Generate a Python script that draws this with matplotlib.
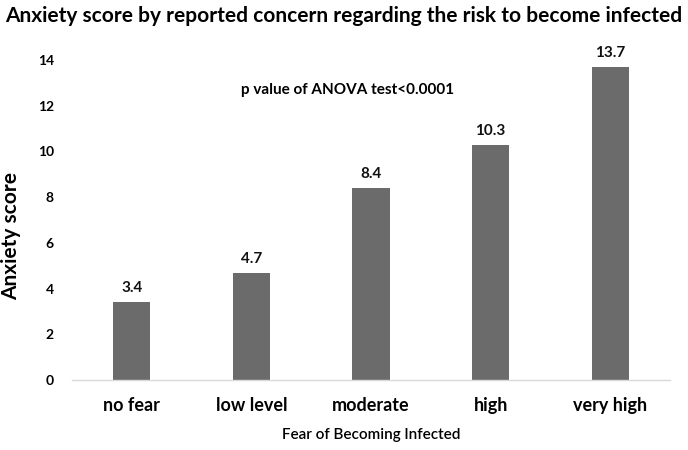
import matplotlib
matplotlib.use("Agg")
import matplotlib.pyplot as plt

categories = ["no fear", "low level", "moderate", "high", "very high"]
scores = [3.4, 4.7, 8.4, 10.3, 13.7]
yticks = [0, 2, 4, 6, 8, 10, 12, 14]

plt.rcParams['font.family'] = ['Lato', 'DejaVu Sans']

fig = plt.figure(figsize=(6.88, 4.5), dpi=100)
ax = fig.add_axes([72/688, 70/450, 598/688, 320/450])

x = range(len(categories))
bars = ax.bar(x, scores, width=0.31, color="#6b6b6b", zorder=2)
ax.set_xlim(-0.5, len(categories) - 0.5)
ax.set_ylim(0, 14)

for xi, v in zip(x, scores):
    ax.text(xi, v + 0.3, f"{v:.1f}", ha="center", va="bottom",
            fontsize=11, fontweight="bold", color="#111111")

for s in ["top", "right", "left"]:
    ax.spines[s].set_visible(False)
ax.spines["bottom"].set_color("#d9d9d9")
ax.spines["bottom"].set_linewidth(1)

ax.set_yticks(yticks)
ax.set_yticklabels([str(t) for t in yticks], fontsize=10, fontweight="bold")
ax.tick_params(axis="y", length=0, pad=13)
ax.set_xticks(list(x))
ax.set_xticklabels(categories, fontsize=13, fontweight="bold")
ax.tick_params(axis="x", length=0, pad=12)

ax.set_ylabel("Anxiety score", fontsize=15, fontweight="bold", labelpad=10)
ax.yaxis.set_label_coords(-0.085, 0.45)
ax.set_xlabel("Fear of Becoming Infected", fontsize=11, fontweight="semibold", labelpad=10)

fig.text(0.5, 0.965, "Anxiety score by reported concern regarding the risk to become infected",
         ha="center", va="center", fontsize=15, fontweight="bold")
ax.text(1.8, 12.7, "p value of ANOVA test<0.0001", ha="center", va="center",
        fontsize=11, fontweight="bold")

plt.savefig("out.png", dpi=100)
